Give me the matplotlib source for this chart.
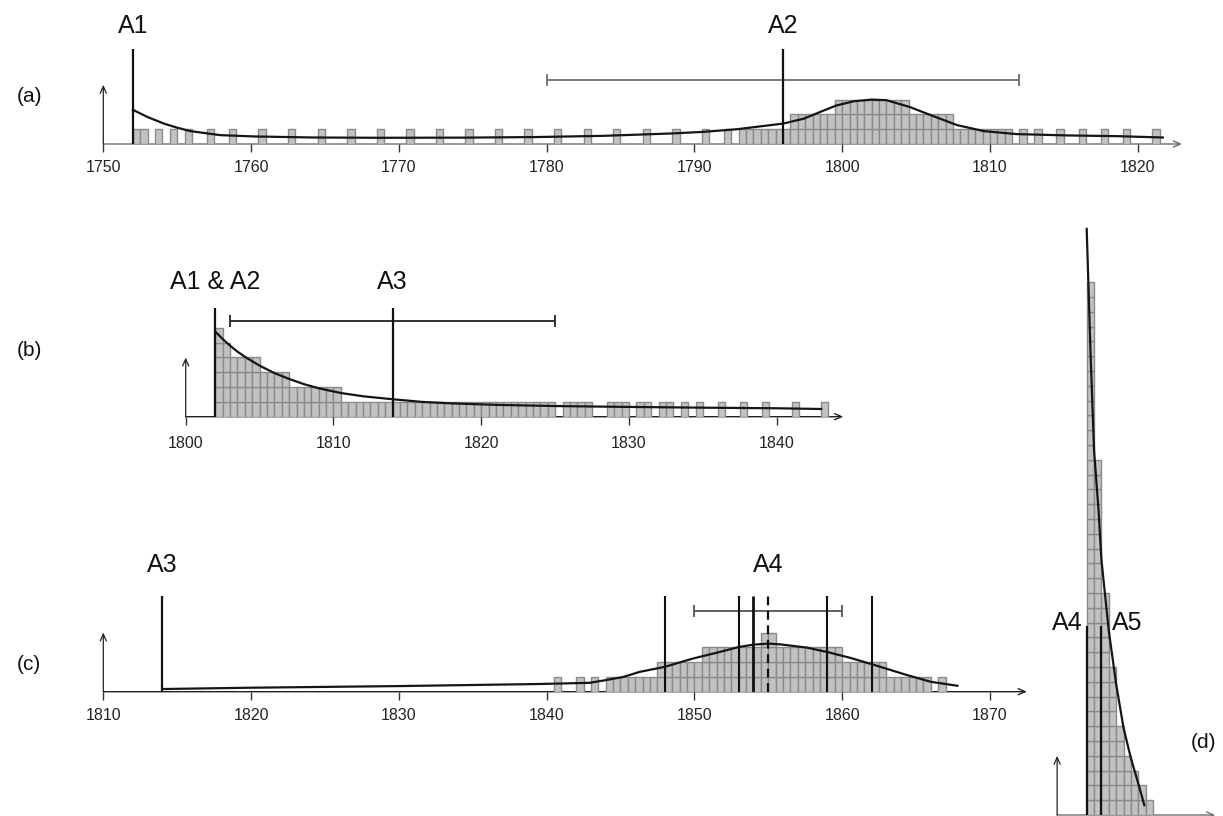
import matplotlib
matplotlib.use('Agg')
import matplotlib.pyplot as plt
import numpy as np

plt.rcParams['font.family'] = ['Liberation Sans', 'DejaVu Sans']

# ---------------- data ----------------
# panel (a): stacked unit boxes, bin start years (bin width 0.5 yr) and counts
a_bins = [1752.0, 1752.5, 1753.5, 1754.5, 1755.5, 1757.0, 1758.5, 1760.5, 1762.5, 1764.5,
          1766.5, 1768.5, 1770.5, 1772.5, 1774.5, 1776.5, 1778.5, 1780.5, 1782.5, 1784.5,
          1786.5, 1788.5, 1790.5, 1792.0,
          1793.0, 1793.5, 1794.0, 1794.5, 1795.0, 1795.5, 1796.0,
          1796.5, 1797.0, 1797.5, 1798.0, 1798.5, 1799.0,
          1799.5, 1800.0, 1800.5, 1801.0, 1801.5, 1802.0, 1802.5, 1803.0, 1803.5, 1804.0,
          1804.5, 1805.0, 1805.5, 1806.0, 1806.5, 1807.0,
          1807.5, 1808.0, 1808.5, 1809.0, 1809.5, 1810.0, 1810.5, 1811.0,
          1812.0, 1813.0, 1814.5, 1816.0, 1817.5, 1819.0, 1821.0]
a_counts = [1, 1, 1, 1, 1, 1, 1, 1, 1, 1,
            1, 1, 1, 1, 1, 1, 1, 1, 1, 1,
            1, 1, 1, 1,
            1, 1, 1, 1, 1, 1, 1,
            2, 2, 2, 2, 2, 2,
            3, 3, 3, 3, 3, 3, 3, 3, 3, 3,
            2, 2, 2, 2, 2, 2,
            1, 1, 1, 1, 1, 1, 1, 1,
            1, 1, 1, 1, 1, 1, 1]
a_curve_x = [1752.0, 1753.0, 1754.1, 1755.0, 1755.9, 1757.9, 1760.2, 1764.2, 1768.7, 1774.4,
             1779.3, 1783.8, 1788.4, 1790.6, 1792.9, 1796.0, 1797.4, 1798.5, 1799.6, 1800.8,
             1802.0, 1803.0, 1804.6, 1806.2, 1807.8, 1809.6, 1811.8, 1815.2, 1818.6, 1821.7]
a_curve_y = [2.31, 1.82, 1.38, 1.10, 0.87, 0.60, 0.51, 0.44, 0.42, 0.43,
             0.47, 0.55, 0.71, 0.82, 1.00, 1.38, 1.71, 2.16, 2.60, 2.89,
             3.00, 2.96, 2.49, 1.87, 1.27, 0.87, 0.67, 0.58, 0.53, 0.44]
a_marks = [1752, 1796]
a_mark_labels = ['A1', 'A2']
a_interval = [1780, 1812]
a_ticks = [1750, 1760, 1770, 1780, 1790, 1800, 1810, 1820]

# panel (b)
b_bins = [1802.0, 1802.5, 1803.0, 1803.5, 1804.0, 1804.5, 1805.0, 1805.5, 1806.0, 1806.5,
          1807.0, 1807.5, 1808.0, 1808.5, 1809.0, 1809.5, 1810.0,
          1810.5, 1811.0, 1811.5, 1812.0, 1812.5, 1813.0, 1813.5, 1814.0, 1814.5, 1815.0,
          1815.5, 1816.0, 1816.5, 1817.0, 1817.5, 1818.0, 1818.5, 1819.0, 1819.5, 1820.0,
          1820.5, 1821.0, 1821.5, 1822.0, 1822.5, 1823.0, 1823.5, 1824.0, 1824.5,
          1825.5, 1826.0, 1826.5, 1827.0, 1828.5, 1829.0, 1829.5, 1830.5, 1831.0,
          1832.0, 1832.5, 1833.5, 1834.5, 1836.0, 1837.5, 1839.0, 1841.0, 1843.0]
b_counts = [6, 5, 4, 4, 4, 4, 3, 3, 3, 3,
            2, 2, 2, 2, 2, 2, 2,
            1, 1, 1, 1, 1, 1, 1, 1, 1, 1,
            1, 1, 1, 1, 1, 1, 1, 1, 1, 1,
            1, 1, 1, 1, 1, 1, 1, 1, 1,
            1, 1, 1, 1, 1, 1, 1, 1, 1,
            1, 1, 1, 1, 1, 1, 1, 1, 1]
b_curve_x = [1802.0, 1802.5, 1803.0, 1803.5, 1804.0, 1805.0, 1806.0, 1807.0, 1808.0, 1809.0,
             1810.5, 1812.0, 1814.0, 1816.0, 1818.0, 1821.0, 1825.0, 1830.0, 1835.0, 1840.0, 1843.0]
b_curve_y = [5.75, 5.25, 4.80, 4.40, 4.05, 3.45, 2.95, 2.55, 2.20, 1.92,
             1.60, 1.38, 1.18, 1.00, 0.90, 0.80, 0.72, 0.66, 0.61, 0.57, 0.52]
b_marks = [1802, 1814]
b_mark_labels = ['A1 & A2', 'A3']
b_interval = [1803, 1825]
b_ticks = [1800, 1810, 1820, 1830, 1840]

# panel (c)
c_bins = [1840.5, 1842.0, 1843.0,
          1844.0, 1844.5, 1845.0, 1845.5, 1846.0, 1846.5, 1847.0,
          1847.5, 1848.0, 1848.5, 1849.0, 1849.5, 1850.0,
          1850.5, 1851.0, 1851.5, 1852.0, 1852.5, 1853.0, 1853.5, 1854.0,
          1854.5, 1855.0,
          1855.5, 1856.0, 1856.5, 1857.0, 1857.5, 1858.0, 1858.5, 1859.0, 1859.5,
          1860.0, 1860.5, 1861.0, 1861.5, 1862.0, 1862.5,
          1863.0, 1863.5, 1864.0, 1864.5, 1865.0, 1865.5, 1866.5]
c_counts = [1, 1, 1,
            1, 1, 1, 1, 1, 1, 1,
            2, 2, 2, 2, 2, 2,
            3, 3, 3, 3, 3, 3, 3, 3,
            4, 4,
            3, 3, 3, 3, 3, 3, 3, 3, 3,
            2, 2, 2, 2, 2, 2,
            1, 1, 1, 1, 1, 1, 1]
c_curve_x = [1814.0, 1820.0, 1830.0, 1839.5, 1842.9, 1844.0, 1845.2, 1846.3, 1848.0, 1849.9,
             1851.7, 1853.0, 1854.0, 1855.0, 1855.8, 1857.6, 1859.0, 1860.5, 1862.0, 1864.4,
             1866.0, 1867.8]
c_curve_y = [0.18, 0.27, 0.38, 0.52, 0.60, 0.78, 1.00, 1.34, 1.68, 2.24,
             2.68, 3.02, 3.18, 3.25, 3.20, 2.98, 2.68, 2.30, 1.86, 1.12,
             0.67, 0.40]
c_marks = [1848, 1853, 1854, 1859, 1862]
c_a3 = 1814
c_a4 = 1855
c_interval = [1850, 1860]
c_ticks = [1810, 1820, 1830, 1840, 1850, 1860, 1870]

# panel (d)
d_bins = [1855.0, 1855.5, 1856.0, 1856.5, 1857.0, 1857.5, 1858.0, 1858.5, 1859.0]
d_counts = [36, 24, 15, 10, 6, 4, 3, 2, 1]
d_curve_x = [1855.0, 1855.25, 1855.5, 1855.8, 1856.0, 1856.5, 1857.0, 1857.5, 1858.0, 1858.5, 1858.9]
d_curve_y = [39.6, 31.5, 24.6, 20.6, 17.2, 12.4, 8.8, 5.85, 3.8, 2.1, 0.66]
d_marks = [1855, 1856]
d_mark_labels = ['A4', 'A5']

# ---------------- layout / style ----------------
W, H = 1223, 816
PX_YR = 14.777
PX_UNIT = 14.8
BOX_FC = '#c2c2c2'
BOX_EC = '#8a8a8a'

fig = plt.figure(figsize=(W / 100, H / 100), dpi=100)


def make_axes(ref_year, ref_px, base_px, xlim, ytop):
    x0, x1 = xlim
    left = ref_px + (x0 - ref_year) * PX_YR
    ax = fig.add_axes([left / W, (H - base_px) / H, (x1 - x0) * PX_YR / W, ytop * PX_UNIT / H])
    ax.set_xlim(x0, x1)
    ax.set_ylim(0, ytop)
    for s in ax.spines.values():
        s.set_visible(False)
    ax.patch.set_visible(False)
    ax.set_yticks([])
    return ax


def boxes(ax, bins, counts):
    xs = np.repeat(np.asarray(bins, float), counts)
    bottoms = np.concatenate([np.arange(c) for c in counts])
    ax.bar(xs, 1, width=0.5, bottom=bottoms, align='edge', facecolor=BOX_FC,
           edgecolor=BOX_EC, linewidth=1.0, zorder=2)


def axes_arrows(ax, x0, x1, xcolor):
    ax.annotate('', xy=(x1, 0), xytext=(x0, 0), annotation_clip=False,
                arrowprops=dict(arrowstyle='->,head_length=0.5,head_width=0.22', lw=1.0,
                                color=xcolor, shrinkA=0, shrinkB=0), zorder=1)
    ax.annotate('', xy=(x0, 4), xytext=(x0, 0), annotation_clip=False,
                arrowprops=dict(arrowstyle='->,head_length=0.5,head_width=0.22', lw=0.9,
                                color='#222222', shrinkA=0, shrinkB=0), zorder=1)


def ticks(ax, tks, pad):
    ax.set_xticks(tks)
    ax.set_xticklabels([str(t) for t in tks])
    ax.tick_params(axis='x', direction='out', length=5.5, width=1.0, color='#333333',
                   labelsize=11.5, labelcolor='#222222', pad=pad)


def interval(ax, xs, y, color, lw=1.3):
    ax.plot(xs, [y, y], color=color, lw=lw, zorder=3, solid_capstyle='butt')
    ax.plot(xs, [y, y], ls='none', marker='|', ms=8, mew=lw, color=color, zorder=3)


LBL = 18
# ---- (a)
ax = make_axes(1750, 103.3, 144, (1748, 1826), 9)
boxes(ax, a_bins, a_counts)
ax.plot(a_curve_x, a_curve_y, color='#151515', lw=1.6, zorder=4)
for x, lab in zip(a_marks, a_mark_labels):
    ax.plot([x, x], [0, 6.4], color='#111111', lw=1.6, zorder=5, solid_capstyle='butt')
    ax.text(x, 8.0, lab, ha='center', va='center', fontsize=LBL, color='#111111')
interval(ax, a_interval, 4.32, '#6e6e6e')
axes_arrows(ax, 1750, 1823, '#6e6e6e')
ticks(ax, a_ticks, 6)

# ---- (b)
ax = make_axes(1800, 185.7, 416.7, (1798, 1846), 10)
boxes(ax, b_bins, b_counts)
ax.plot(b_curve_x, b_curve_y, color='#151515', lw=1.6, zorder=4)
for x, lab in zip(b_marks, b_mark_labels):
    ax.plot([x, x], [0, 7.32], color='#111111', lw=1.6, zorder=5, solid_capstyle='butt')
    ax.text(x, 9.12, lab, ha='center', va='center', fontsize=LBL, color='#111111')
interval(ax, b_interval, 6.49, '#222222')
axes_arrows(ax, 1800, 1844.5, '#222222')
ticks(ax, b_ticks, 8.5)

# ---- (c)
ax = make_axes(1810, 103.3, 691.7, (1808, 1874), 10)
boxes(ax, c_bins, c_counts)
ax.plot(c_curve_x, c_curve_y, color='#151515', lw=1.6, zorder=4)
ax.plot([c_a3, c_a3], [0, 6.47], color='#111111', lw=1.6, zorder=5, solid_capstyle='butt')
ax.text(c_a3, 8.56, 'A3', ha='center', va='center', fontsize=LBL, color='#111111')
for x in c_marks:
    ax.plot([x, x], [0, 6.47], color='#111111', lw=2.0 if x == 1854 else 1.5, zorder=5,
            solid_capstyle='butt')
ax.plot([c_a4, c_a4], [0, 6.47], color='#111111', lw=1.6, ls=(0, (4, 2.5)), zorder=5)
ax.text(c_a4, 8.56, 'A4', ha='center', va='center', fontsize=LBL, color='#111111')
interval(ax, c_interval, 5.45, '#555555')
axes_arrows(ax, 1810, 1872.5, '#222222')
ticks(ax, c_ticks, 6)

# ---- (d)
ax = make_axes(1855, 1086.7, 815, (1852, 1866), 42)
ax.set_xticks([])
boxes(ax, d_bins, d_counts)
ax.plot(d_curve_x, d_curve_y, color='#151515', lw=1.6, zorder=4)
for x in d_marks:
    ax.plot([x, x], [0, 12.8], color='#111111', lw=1.6, zorder=5, solid_capstyle='butt')
ax.text(d_marks[0] - 0.3, 12.97, d_mark_labels[0], ha='right', va='center', fontsize=LBL, color='#111111')
ax.text(d_marks[1] + 0.7, 12.97, d_mark_labels[1], ha='left', va='center', fontsize=LBL, color='#111111')
axes_arrows(ax, 1853, 1863.7, '#6e6e6e')

# panel letters
for lab, (px, py) in {'(a)': (29, 97), '(b)': (29, 350), '(c)': (29, 665), '(d)': (1204, 742)}.items():
    fig.text(px / W, 1 - py / H, lab, ha='center', va='center', fontsize=15, color='#111111')

fig.savefig('out.png', dpi=100)
